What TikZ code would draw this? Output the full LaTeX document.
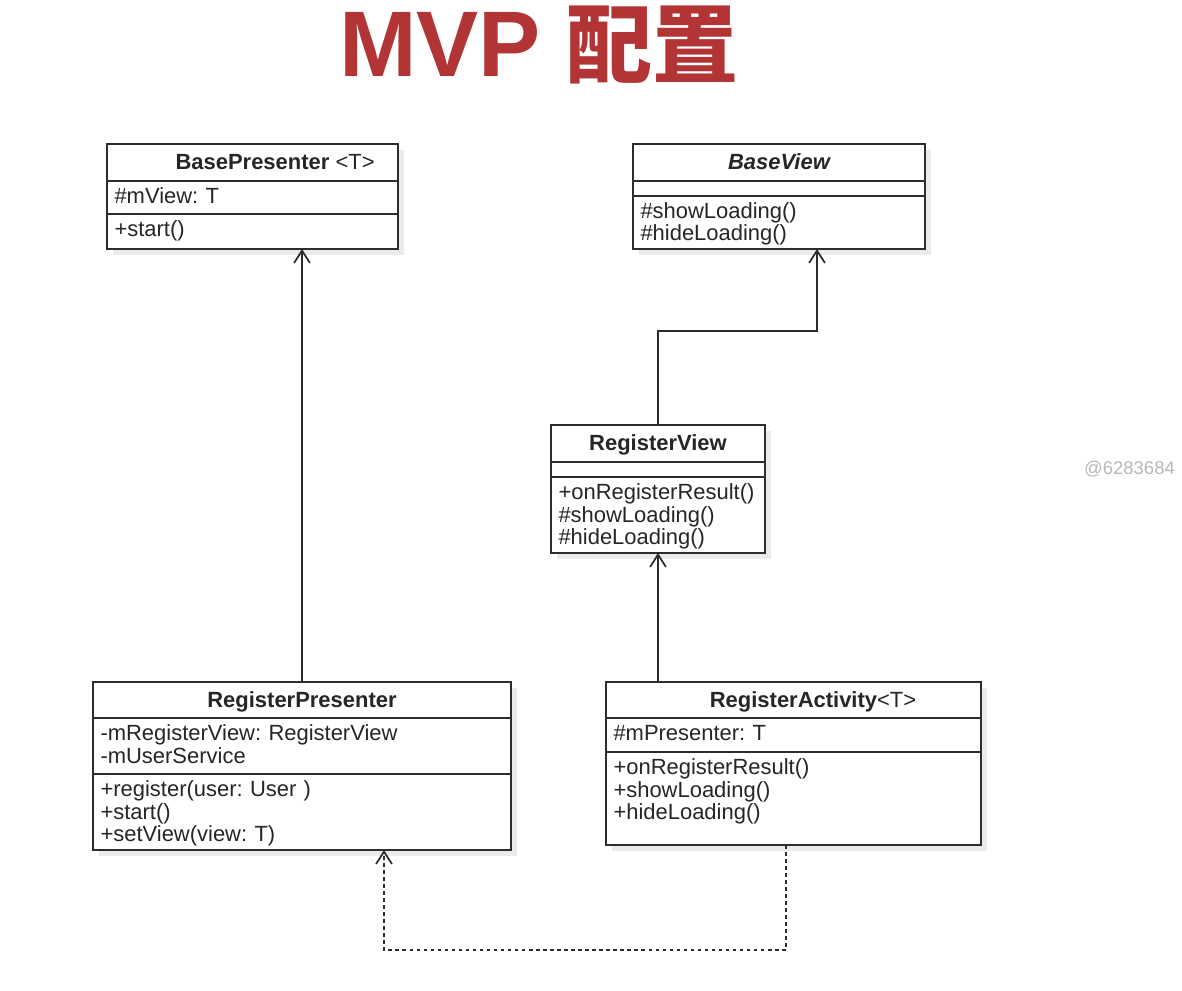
\documentclass[tikz,border=0pt]{standalone}
\usepackage{fontspec}
\setmainfont{Liberation Sans}
\newfontfamily\cjk{Noto Sans CJK SC}
\usepackage{xcolor}
\usepackage{tikz}
\usetikzlibrary{arrows.meta,calc,shadows}
\definecolor{titlered}{RGB}{178,52,52}
\definecolor{umlline}{RGB}{45,45,45}
\newcommand{\umlfont}{\fontsize{12.5pt}{12.8pt}\selectfont}
\frenchspacing

\begin{document}
\begin{tikzpicture}[>={Straight Barb[length=7pt,width=9pt]},
    box/.style={draw=umlline, fill=white, line width=1.1pt, outer sep=0pt, anchor=north west, text=black!85,
      drop shadow={shadow xshift=0.12cm, shadow yshift=-0.12cm, fill=black, opacity=0.08}},
    head/.style={box, minimum width=#1, minimum height=0.74cm, inner sep=0pt, text height=0.35cm, text depth=0.07cm, font=\umlfont\bfseries},
    memb/.style={box, text width=#1, inner xsep=0.15cm, inner ysep=0pt, align=left, text height=0.45cm, font=\umlfont},
    gap/.style={box, minimum width=#1, minimum height=0.30cm, inner sep=0pt},
    inh/.style={->, line width=1pt, draw=umlline},
    dep/.style={inh, dash pattern=on 2pt off 2pt}]
    \useasboundingbox (0,0) rectangle (23.64,-19.8);
    \node[anchor=base, text=titlered, font=\fontsize{53pt}{60pt}\selectfont\bfseries] (title) at (10.78,-1.52) {MVP {\cjk\fontsize{49pt}{60pt}\selectfont 配置}};
    \node[anchor=base, text=black!28, font=\fontsize{10.5pt}{12pt}\selectfont] (mark) at (22.59,-9.48) {@6283684};

    \node[head=5.82cm] (bp-h) at (2.14,-2.88) {BasePresenter\rlap{\mdseries\ <T>}};
    \node[memb=5.52cm, text depth=0.21cm] (bp-a) at (bp-h.south west) {\#mView: T};
    \node[memb=5.52cm, text depth=0.25cm] (bp-m) at (bp-a.south west) {+start()};

    \node[head=5.84cm] (bv-h) at (12.66,-2.88) {\itshape BaseView};
    \node[gap=5.84cm] (bv-a) at (bv-h.south west) {};
    \node[memb=5.54cm, text depth=0.61cm] (bv-m) at (bv-a.south west) {\#showLoading()\\\#hideLoading()};

    \node[head=4.28cm] (rv-h) at (11.02,-8.50) {RegisterView};
    \node[gap=4.28cm] (rv-a) at (rv-h.south west) {};
    \node[memb=3.98cm, text depth=1.07cm] (rv-m) at (rv-a.south west) {+onRegisterResult()\\\#showLoading()\\\#hideLoading()};

    \node[head=8.36cm, minimum height=0.72cm] (rp-h) at (1.86,-13.64) {RegisterPresenter};
    \node[memb=8.06cm, text depth=0.67cm] (rp-a) at (rp-h.south west) {-mRegisterView: RegisterView\\-mUserService};
    \node[memb=8.06cm, text depth=1.07cm] (rp-m) at (rp-a.south west) {+register(user: User )\\+start()\\+setView(view: T)};

    \node[head=7.50cm, minimum height=0.72cm] (ra-h) at (12.12,-13.64) {RegisterActivity\rlap{\mdseries <T>}};
    \node[memb=7.20cm, text depth=0.23cm] (ra-a) at (ra-h.south west) {\#mPresenter: T};
    \node[memb=7.20cm, text depth=1.41cm] (ra-m) at (ra-a.south west) {+onRegisterResult()\\+showLoading()\\+hideLoading()};

    \coordinate (bv-in) at ($(bv-m.south)+(0.76,0)$);
    \coordinate (ra-out) at ($(ra-m.south)+(-0.15,0)$);
    \coordinate (rp-in) at ($(rp-m.south)+(1.64,0)$);
    \draw[inh] (rp-h.north) -- (rp-h.north |- bp-m.south);
    \draw[inh] (rv-h.north) -- ++(0,1.88) -| (bv-in);
    \draw[inh] (rv-m.south |- ra-h.north) -- (rv-m.south);
    \draw[dep] (ra-out) -- ++(0,-2.1) -| (rp-in);
\end{tikzpicture}
\end{document}
